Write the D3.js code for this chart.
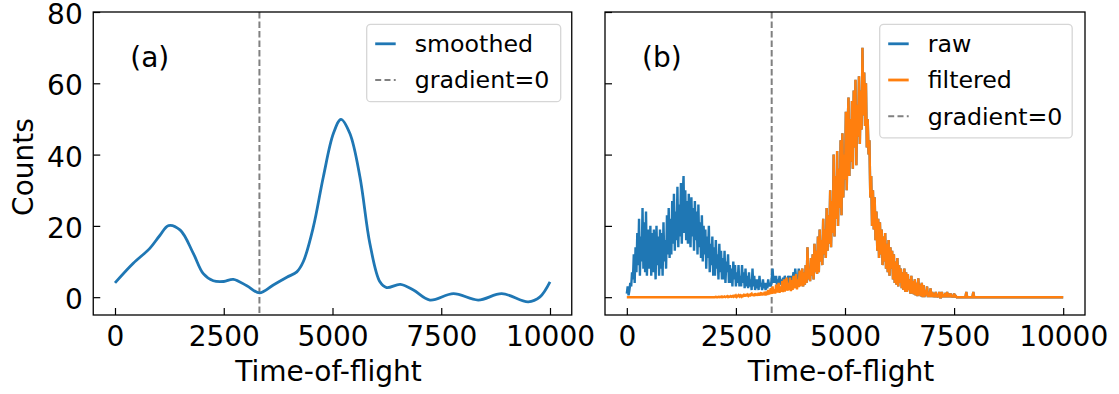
<!DOCTYPE html>
<html>
<head>
<meta charset="utf-8">
<script src="https://cdn.jsdelivr.net/npm/d3@7"></script>
<style>
  html, body { margin: 0; padding: 0; background: #fff; }
  svg { display: block; font-family: "DejaVu Sans", sans-serif; }
</style>
</head>
<body>
<svg id="chart" width="1119" height="394"></svg>
<script>
// ---------------- data ----------------
const xTicks = [0, 2500, 5000, 7500, 10000];
const yTicks = [0, 20, 40, 60, 80];
const xDomain = [-500, 10500];
const yDomain = [-5, 80];

// panel (a): smoothed spectrum
const smoothTof = [0, 420, 800, 1030, 1230, 1500, 1800, 2030, 2260, 2500, 2720, 3030, 3320, 3640, 3950, 4180, 4330,
  4560, 4790, 5020, 5195, 5400, 5630, 5860, 6090, 6245, 6560, 6860, 7240, 7780, 8350, 8890, 9500, 9770, 10000];
const smoothCounts = [4.0, 9.5, 13.7, 17.3, 20.1, 18.8, 12.3, 6.6, 4.6, 4.4, 5.0, 3.2, 1.2, 3.4, 5.6, 7.1, 10.0,
  19.7, 33.8, 45.9, 49.9, 45.9, 33.8, 15.0, 4.3, 2.7, 3.6, 2.0, -0.8, 1.0, -0.8, 1.0, -1.3, 0.1, 4.3];

const gradientZeroTof = 3320;

// panel (b): histograms, bin width 20
const binWidth = 20;
// raw counts, bins starting at 0 (0 .. 3980)
const rawCountsEarly = [
  1, 3, 0.5, 2, 4, 3, 7, 5, 12, 4,
  14, 7, 18, 9, 22, 6, 17, 10, 25, 8,
  21, 7, 24, 6, 15, 19, 8, 20, 6, 18,
  7, 19, 12, 5, 20, 9, 17, 6, 19, 8,
  18, 6, 21, 10, 16, 8, 23, 12, 25, 11,
  22, 12, 27, 15, 29, 13, 24, 16, 31, 14,
  26, 17, 32, 15, 28, 34, 18, 30, 16, 27,
  15, 29, 20, 14, 28, 17, 25, 13, 27, 16,
  24, 12, 26, 14, 21, 11, 23, 10, 20, 12,
  19, 8, 17, 11, 20, 7, 15, 9, 17, 6,
  14, 6, 16, 8, 12, 5, 15, 7, 13, 5,
  11, 5, 13, 4, 10, 7, 12, 4, 9, 4,
  8, 3, 10, 5, 9, 3, 7, 4, 9, 3,
  6, 3, 9, 4, 7, 2.5, 8, 3, 6, 2.5,
  7, 3, 5, 2, 8, 3, 6, 2, 5, 2.5,
  5, 2, 6, 3, 4, 2, 5, 2.5, 4, 2,
  4, 2.5, 5, 3, 4, 3, 5, 8, 4, 6,
  4, 6, 3.5, 5, 4, 6, 3.5, 5, 4, 5.5,
  4, 6, 4.5, 5, 4, 6, 5, 4, 6, 4.5,
  5, 7, 4, 8, 5, 6, 4.5, 8, 5, 7
];
// filtered counts, bins starting at 2000 (2000 .. 8000); zero outside
const filteredStartTof = 2000;
const filteredCounts = [
  0, 0, 0.1, 0, 0, 0.1, 0, 0.1, 0, 0.2,
  0, 0.1, 0.2, 0, 0.1, 0.3, 0, 0.2, 0.1, 0.3,
  0.1, 0.3, 0.1, 0.4, 0.2, 0.5, 0.1, 0.4, 0.6, 0.2,
  0.5, 0.2, 0.7, 0.3, 0.6, 0.2, 0.8, 0.3, 0.7, 0.4,
  0.9, 0.3, 0.8, 1.0, 0.4, 0.9, 0.3, 1.1, 0.5, 1.0,
  0.4, 1.2, 0.5, 1.0, 1.3, 0.5, 1.2, 0.6, 1.5, 0.5,
  1.6, 0.6, 2.0, 0.8, 1.5, 2.5, 0.9, 3.0, 1.0, 2.2,
  1.0, 3.5, 1.3, 2.5, 4.0, 1.2, 3.0, 1.5, 4.5, 1.4,
  5.0, 1.6, 3.5, 5.5, 1.8, 4.0, 2.0, 5.5, 1.7, 4.8,
  2.0, 6.0, 2.5, 4.5, 6.5, 2.2, 5.0, 2.8, 7.5, 3.0,
  6.0, 8.0, 3.0, 7.0, 3.5, 9.0, 4.0, 14.0, 5.0, 8.0,
  4.5, 11.0, 6.0, 12.0, 5.0, 15.0, 7.0, 13.0, 6.5, 17.0,
  7.0, 19.0, 10.0, 16.0, 9.0, 22.0, 12.0, 19.0, 11.0, 25.0,
  13.0, 23.0, 15.0, 30.0, 14.0, 27.0, 18.0, 40.0, 17.0, 34.0,
  22.0, 41.0, 20.0, 36.0, 25.0, 44.0, 23.0, 46.0, 28.0, 40.0,
  33.0, 52.0, 30.0, 48.0, 56.0, 34.0, 50.0, 38.0, 55.0, 36.0,
  58.0, 42.0, 61.0, 37.0, 54.0, 45.0, 62.0, 43.0, 58.0, 47.0,
  70.0, 51.0, 63.0, 48.0, 60.0, 42.0, 50.0, 40.0, 44.0, 28.0,
  34.0, 20.0, 30.0, 19.0, 28.0, 16.0, 24.0, 13.0, 22.0, 11.0,
  21.0, 12.0, 19.0, 9.0, 17.0, 10.0, 18.0, 8.0, 15.0, 7.0,
  16.0, 6.0, 14.0, 8.0, 13.0, 5.0, 12.0, 4.0, 10.0, 3.5,
  11.0, 3.0, 9.0, 4.0, 8.0, 2.5, 7.0, 2.0, 8.0, 1.5,
  7.0, 1.5, 6.5, 2.0, 5.0, 1.0, 6.0, 1.0, 4.5, 0.8,
  5.0, 0.5, 4.0, 0.3, 5.3, 0.5, 3.5, 0.2, 4.0, 0,
  3.4, 0, 2.0, 0.5, 3.0, 0, 1.5, 0, 2.5, 0,
  1.5, 0, 1.0, 0, 1.5, 0, 0.5, 0, 1.5, 0,
  0, 1.5, 0, 0.8, 0, 1.2, 0, 1.5, 0, 1.0,
  0, 1.0, 0, 0.5, 0, 1.0, 0, 0.3, 0, 0,
  0, 0, 0, 0, 0, 0, 0, 0, 0, 1.5,
  0, 0, 0, 0, 0, 0, 0, 1.5, 0, 0,
  0
];
const tofMin = 0, tofMax = 10000;

// ---------------- drawing ----------------
const svg = d3.select("#chart");
const FONT = 28;
const LEG_FONT = 23.7;
const blue = "#1f77b4", orange = "#ff7f0e", grey = "#808080";

const topY = 12, bottomY = 315;
const panels = [
  {left: 93.25, right: 571.75, label: "(a)", showYLabels: true},
  {left: 605, right: 1085, label: "(b)", showYLabels: false}
];

const filteredSeries = [[tofMin, 0]]
  .concat(filteredCounts.map((c, i) => [filteredStartTof + i * binWidth, c]))
  .concat([[tofMax, 0]]);
const rawSeries = rawCountsEarly.map((c, i) => [i * binWidth, c])
  .concat(filteredSeries.filter(d => d[0] >= rawCountsEarly.length * binWidth));

panels.forEach((p, pi) => {
  const x = d3.scaleLinear().domain(xDomain).range([p.left, p.right]);
  const y = d3.scaleLinear().domain(yDomain).range([bottomY, topY]);
  const g = svg.append("g");
  const clipId = "clip" + pi;
  svg.append("clipPath").attr("id", clipId).append("rect")
    .attr("x", p.left).attr("y", topY).attr("width", p.right - p.left).attr("height", bottomY - topY);

  const plot = g.append("g").attr("clip-path", `url(#${clipId})`);

  // dashed gradient line
  plot.append("line")
    .attr("x1", x(gradientZeroTof)).attr("x2", x(gradientZeroTof))
    .attr("y1", topY).attr("y2", bottomY)
    .attr("stroke", grey).attr("stroke-width", 2).attr("stroke-dasharray", "6.5,3");

  if (pi === 0) {
    const pts = smoothTof.map((t, i) => [t, smoothCounts[i]]);
    const line = d3.line().x(d => x(d[0])).y(d => y(d[1])).curve(d3.curveCatmullRom.alpha(0.5));
    plot.append("path").datum(pts)
      .attr("d", line)
      .attr("fill", "none").attr("stroke", blue).attr("stroke-width", 2.8)
      .attr("stroke-linejoin", "round").attr("stroke-linecap", "butt");
  } else {
    const l2 = d3.line().x(d => x(d[0])).y(d => y(d[1]));
    plot.append("path").datum(rawSeries)
      .attr("d", l2).attr("fill", "none").attr("stroke", blue).attr("stroke-width", 2.4)
      .attr("stroke-linejoin", "miter").attr("stroke-miterlimit", 2);
    plot.append("path").datum(filteredSeries)
      .attr("d", l2).attr("fill", "none").attr("stroke", orange).attr("stroke-width", 2.4)
      .attr("stroke-linejoin", "miter").attr("stroke-miterlimit", 2);
  }

  // axes
  const xAxis = d3.axisBottom(x).tickValues(xTicks).tickSize(-7).tickFormat(d3.format("d"));
  const xg = g.append("g").attr("transform", `translate(0,${bottomY})`).call(xAxis);
  xg.select(".domain").remove();
  xg.selectAll(".tick line").attr("stroke", "#000").attr("stroke-width", 1.2);
  xg.selectAll(".tick text").attr("y", 346 - bottomY).attr("dy", null)
    .attr("font-size", FONT).attr("font-family", "DejaVu Sans").attr("fill", "#000");

  const yAxis = d3.axisLeft(y).tickValues(yTicks).tickSize(-7).tickFormat(p.showYLabels ? d3.format("d") : () => "");
  const yg = g.append("g").attr("transform", `translate(${p.left},0)`).call(yAxis);
  yg.select(".domain").remove();
  yg.selectAll(".tick line").attr("stroke", "#000").attr("stroke-width", 1.2);
  yg.selectAll(".tick text").attr("x", -10.5).attr("dy", "11.5px")
    .attr("font-size", FONT).attr("font-family", "DejaVu Sans").attr("fill", "#000");

  // spines
  g.append("rect").attr("x", p.left).attr("y", topY)
    .attr("width", p.right - p.left).attr("height", bottomY - topY)
    .attr("fill", "none").attr("stroke", "#000").attr("stroke-width", 1.3);

  // x label
  g.append("text").attr("x", (p.left + p.right) / 2 - 4).attr("y", 381)
    .attr("text-anchor", "middle").attr("font-size", FONT).text("Time-of-flight");

  // panel label
  g.append("text").attr("x", p.left + 37).attr("y", 67)
    .attr("font-size", FONT).text(p.label);
});

// y label
svg.append("text").attr("transform", "translate(33,167) rotate(-90)")
  .attr("text-anchor", "middle").attr("font-size", FONT).text("Counts");

// legends
function legend(x0, y0, w, items) {
  const rowH = 36.2;
  const h = items.length * rowH + 5;
  const lg = svg.append("g");
  lg.append("rect").attr("x", x0).attr("y", y0).attr("width", w).attr("height", h)
    .attr("rx", 4).attr("fill", "#fff").attr("fill-opacity", 0.8)
    .attr("stroke", "#d6d6d6").attr("stroke-width", 1.3);
  items.forEach((it, i) => {
    const cy = y0 + 19.5 + i * rowH;
    lg.append("line").attr("x1", x0 + 8.5).attr("x2", x0 + 29).attr("y1", cy).attr("y2", cy)
      .attr("stroke", it.color).attr("stroke-width", it.dash ? 2 : 2.8)
      .attr("stroke-dasharray", it.dash ? "6,3.3" : null);
    lg.append("text").attr("x", x0 + 48).attr("y", cy + 8.3)
      .attr("font-size", LEG_FONT).text(it.label);
  });
}
legend(366.7, 24.3, 194, [
  {label: "smoothed", color: blue},
  {label: "gradient=0", color: grey, dash: true}
]);
legend(879.7, 24.3, 192.5, [
  {label: "raw", color: blue},
  {label: "filtered", color: orange},
  {label: "gradient=0", color: grey, dash: true}
]);
</script>
</body>
</html>
